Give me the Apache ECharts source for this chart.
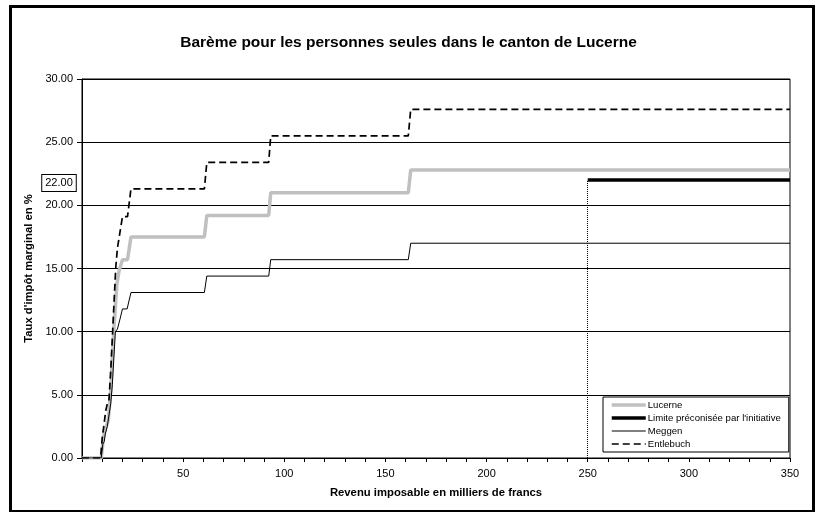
<!DOCTYPE html>
<html><head><meta charset="utf-8">
<script src="https://cdn.jsdelivr.net/npm/echarts@6/dist/echarts.min.js"></script>
<style>html,body{margin:0;padding:0;background:#fff}#c{width:817px;height:512px}</style>
</head><body><div id="c"></div>
<script>
// Revenu imposable (milliers de francs), taux marginal (%)
const lucerne = [[0,0],[9.5,0],[10.3,1.2],[11,2],[12,2.5],[13,3],[14.2,5.3],[15,7.9],[15.8,10.3],[17.2,13.7],[18.3,14.8],[20,15.7],[22.5,15.7],[24.2,17.5],[60.5,17.5],[61.7,19.2],[92.3,19.2],[93.3,21.0],[161.3,21.0],[162.5,22.8],[350,22.8]];
const meggen = [[0,0],[9.5,0],[10.3,1.1],[11,1.3],[11.5,1.9],[12.5,2.5],[13.3,2.6],[14.2,4.3],[15,5.8],[16.5,10.0],[17.5,10.2],[18.8,11.0],[20,11.8],[22.3,11.8],[24.2,13.1],[60.5,13.1],[61.7,14.4],[92.3,14.4],[93.3,15.7],[161.3,15.7],[162.5,17.0],[350,17.0]];
const entlebuch = [[0,0],[9.2,0],[10,1.6],[11,2.8],[11.7,3.7],[12.5,4.3],[13.3,4.5],[14.2,6.9],[15,9.5],[15.8,12.2],[16.7,15.1],[17.5,16.6],[18.5,17.6],[20,19.1],[22.5,19.1],[24.2,21.3],[60.5,21.3],[61.7,23.4],[92.3,23.4],[93.3,25.5],[161.3,25.5],[162.5,27.6],[350,27.6]];
const limite = [[250,22],[350,22]];
const limiteValue = 22;
const limiteStart = 250;
const xTickLabels = [50,100,150,200,250,300,350];
const seriesNames = ['Lucerne','Limite préconisée par l\'initiative','Meggen','Entlebuch'];

const FONT = '"Liberation Sans", Arial, sans-serif';
const chart = echarts.init(document.getElementById('c'), null, {renderer:'canvas'});
const styles = [
  {color: '#c0c0c0', width: 3.5, type: 'solid'},
  {color: '#000', width: 3.5, type: 'solid'},
  {color: '#000', width: 1, type: 'solid'},
  {color: '#000', width: 1.7, type: [7, 4]}
];
const option = {
  animation: false,
  backgroundColor: '#fff',
  title: {
    text: 'Barème pour les personnes seules dans le canton de Lucerne',
    left: 'center', top: 30,
    textStyle: {fontFamily: FONT, fontSize: 15.5, fontWeight: 'bold', color: '#000'}
  },
  grid: {left: 82, right: 27, top: 79, bottom: 54, show: true, borderColor: '#000', borderWidth: 1, backgroundColor: 'transparent'},
  legend: {
    orient: 'vertical', left: 603, top: 397,
    data: seriesNames.map((n, i) => ({name: n, lineStyle: {width: styles[i].width, type: styles[i].type, color: styles[i].color}})),
    itemWidth: 34, itemHeight: 10, itemGap: 3,
    padding: [3, 8, 3, 7],
    borderColor: '#000', borderWidth: 1, backgroundColor: '#fff',
    itemStyle: {opacity: 0},
    textStyle: {fontFamily: FONT, fontSize: 9.6, color: '#000', padding: [0,0,0,-3]}
  },
  xAxis: {
    type: 'value', min: 0, max: 350, interval: 10,
    name: 'Revenu imposable en milliers de francs',
    nameLocation: 'middle', nameGap: 29,
    nameTextStyle: {fontFamily: FONT, fontSize: 11.3, fontWeight: 'bold', color: '#000'},
    axisLine: {lineStyle: {color: '#000', width: 1}},
    axisTick: {show: true, inside: false, length: 4, lineStyle: {color: '#000'}},
    axisLabel: {fontFamily: FONT, fontSize: 11, color: '#000', margin: 10,
      formatter: v => xTickLabels.includes(v) ? String(v) : ''},
    splitLine: {show: false}
  },
  yAxis: {
    type: 'value', min: 0, max: 30, interval: 5,
    name: 'Taux d\'impôt marginal en %',
    nameLocation: 'middle', nameGap: 43, nameRotate: 90,
    nameTextStyle: {fontFamily: FONT, fontSize: 11.3, fontWeight: 'bold', color: '#000'},
    axisLine: {show: true, lineStyle: {color: '#000', width: 1}},
    axisTick: {show: true, inside: false, length: 5, lineStyle: {color: '#000'}},
    axisLabel: {fontFamily: FONT, fontSize: 11, color: '#000', margin: 9, formatter: v => v.toFixed(2)},
    splitLine: {show: true, lineStyle: {color: '#000', width: 1}}
  },
  series: [
    {name: seriesNames[0], type: 'line', data: lucerne, symbol: 'none', z: 3,
      lineStyle: styles[0], itemStyle: {color: styles[0].color}},
    {name: seriesNames[1], type: 'line', data: limite, symbol: 'none', z: 4,
      lineStyle: styles[1], itemStyle: {color: styles[1].color},
      markLine: {silent: true, symbol: 'none', label: {show: false},
        lineStyle: {color: '#000', width: 1, type: [1, 1]},
        data: [[{coord: [limiteStart, 0]}, {coord: [limiteStart, limiteValue]}]]}},
    {name: seriesNames[2], type: 'line', data: meggen, symbol: 'none', z: 5,
      lineStyle: styles[2], itemStyle: {color: styles[2].color}},
    {name: seriesNames[3], type: 'line', data: entlebuch, symbol: 'none', z: 6,
      lineStyle: styles[3], itemStyle: {color: styles[3].color}}
  ]
};
chart.setOption(option);
const p = chart.convertToPixel({gridIndex: 0}, [0, limiteValue]);
chart.setOption({
  graphic: [
    {type: 'rect', left: 8, top: 4, shape: {width: 803, height: 505}, style: {fill: 'none', stroke: '#000', lineWidth: 3}, silent: true},
    {type: 'text', x: p[0] - 23, y: p[1] + 3, style: {
      text: limiteValue.toFixed(2), font: '11px ' + FONT, fill: '#000',
      align: 'center', verticalAlign: 'middle',
      backgroundColor: '#fff', borderColor: '#000', borderWidth: 1, padding: [3, 3, 2, 3]}}
  ]
});
</script></body></html>
